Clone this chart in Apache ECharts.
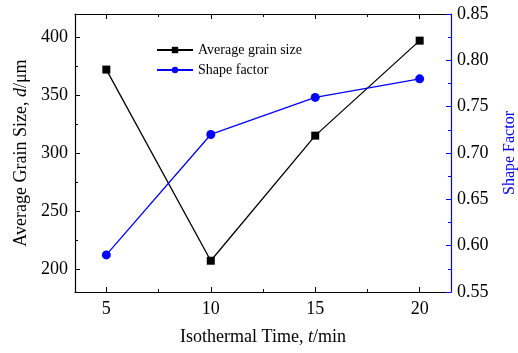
<!DOCTYPE html>
<html>
<head>
<meta charset="utf-8">
<script src="https://cdn.jsdelivr.net/npm/echarts@6/dist/echarts.min.js"></script>
<style>
  html, body { margin: 0; padding: 0; background: #fff; }
  #chart { width: 518px; height: 353px; }
</style>
</head>
<body>
<div id="chart"></div>
<script>
const times = [5, 10, 15, 20]
const grainSize = [372, 207, 315, 397]
const shapeFactor = [0.59, 0.72, 0.76, 0.78]

const xMajor = [5, 10, 15, 20]
const xMinor = [7.5, 12.5, 17.5]
const yMajor = [200, 250, 300, 350, 400]
const yMinor = [225, 275, 325, 375]

const font = '"Liberation Serif", "Times New Roman", serif'
const blue = '#0000ff'

const chart = echarts.init(document.getElementById('chart'))

function tickAxis(pos, vals, len, color, extra) {
  return Object.assign({
    type: 'value',
    position: pos,
    axisLine: { show: false, onZero: false },
    axisTick: { show: true, inside: true, length: len, customValues: vals, lineStyle: { color: color, width: 1 } },
    axisLabel: { show: false },
    splitLine: { show: false }
  }, extra)
}

const xRange = { min: 3.5, max: 21.5 }
const yRange = { min: 180, max: 420 }

const option = {
  animation: false,
  textStyle: { fontFamily: font },
  grid: { left: 75, right: 67, top: 14, bottom: 61, outerBoundsMode: 'none', containLabel: false },
  legend: {
    orient: 'vertical',
    left: 151,
    top: 38,
    itemWidth: 36,
    itemHeight: 8,
    itemGap: 6,
    textStyle: { fontFamily: font, fontSize: 14, color: '#000' },
    data: ['Average grain size', 'Shape factor']
  },
  xAxis: [
    {
      type: 'value',
      ...xRange,
      position: 'bottom',
      name: 'Isothermal Time, {i|t}/min',
      nameLocation: 'middle',
      nameGap: 36,
      nameTextStyle: { fontFamily: font, fontSize: 18, color: '#000', rich: { i: { fontFamily: font, fontSize: 18, fontStyle: 'italic', color: '#000' } } },
      axisLine: { show: true, onZero: false, lineStyle: { color: '#000', width: 1.2 } },
      axisTick: { show: true, inside: true, length: 5, customValues: xMajor, lineStyle: { color: '#000' } },
      axisLabel: { customValues: xMajor, fontFamily: font, fontSize: 18, color: '#000', margin: 8 },
      splitLine: { show: false }
    },
    tickAxis('bottom', xMinor, 3, '#000', xRange),
    Object.assign(tickAxis('top', xMajor, 5, '#000', xRange), { axisLine: { show: true, onZero: false, lineStyle: { color: '#000', width: 1.2 } } }),
    tickAxis('top', xMinor, 3, '#000', xRange)
  ],
  yAxis: [
    {
      type: 'value',
      ...yRange,
      position: 'left',
      name: 'Average Grain Size, {i|d}/μm',
      nameLocation: 'middle',
      nameRotate: 90,
      nameGap: 45,
      nameTextStyle: { fontFamily: font, fontSize: 18, color: '#000', rich: { i: { fontFamily: font, fontSize: 18, fontStyle: 'italic', color: '#000' } } },
      axisLine: { show: true, onZero: false, lineStyle: { color: '#000', width: 1.2 } },
      axisTick: { show: true, inside: true, length: 5, customValues: yMajor, lineStyle: { color: '#000' } },
      axisLabel: { customValues: yMajor, fontFamily: font, fontSize: 18, color: '#000', margin: 7 },
      splitLine: { show: false }
    },
    tickAxis('left', yMinor, 3, '#000', yRange),
    {
      type: 'value',
      min: 0.55,
      max: 0.85,
      interval: 0.05,
      position: 'right',
      name: 'Shape Factor',
      nameLocation: 'middle',
      nameRotate: 90,
      nameGap: 51,
      nameTextStyle: { fontFamily: font, fontSize: 16, color: blue },
      axisLine: { show: true, onZero: false, lineStyle: { color: blue, width: 1.2 } },
      axisTick: { show: true, inside: true, length: 5, lineStyle: { color: blue } },
      minorTick: { show: true, splitNumber: 2, length: 3, lineStyle: { color: blue } },
      axisLabel: { fontFamily: font, fontSize: 18, color: '#000', margin: 6, formatter: v => v.toFixed(2) },
      splitLine: { show: false },
      minorSplitLine: { show: false }
    }
  ],
  series: [
    {
      name: 'Average grain size',
      type: 'line',
      xAxisIndex: 0,
      yAxisIndex: 0,
      symbol: 'rect',
      symbolSize: 8,
      itemStyle: { color: '#000' },
      lineStyle: { color: '#000', width: 1.3 },
      data: times.map((t, i) => [t, grainSize[i]])
    },
    {
      name: 'Shape factor',
      type: 'line',
      xAxisIndex: 0,
      yAxisIndex: 2,
      symbol: 'circle',
      symbolSize: 9,
      itemStyle: { color: blue },
      lineStyle: { color: blue, width: 1.3 },
      data: times.map((t, i) => [t, shapeFactor[i]])
    }
  ]
}

chart.setOption(option)
</script>
</body>
</html>
